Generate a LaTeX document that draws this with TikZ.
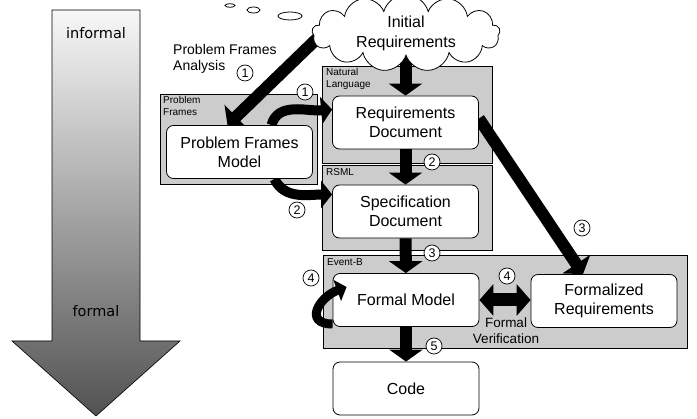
\documentclass[tikz,border=0pt]{standalone}
\usepackage{fontspec}
\setmainfont{Liberation Sans}
\newfontfamily\arrowfont{DejaVu Sans}
\usetikzlibrary{arrows.meta,shapes.symbols}
\pgfdeclarelayer{bg}
\pgfsetlayers{bg,main}

\tikzset{
    graybox/.style={draw=black,fill=black!20,line width=0.8pt},
    docbox/.style={draw=black,fill=white,rounded corners=7pt,line width=0.8pt,minimum width=146pt,minimum height=53pt,align=center,font=\fontsize{16}{19}\selectfont},
    boxlabel/.style={anchor=north west,align=left,inner sep=0pt,font=\fontsize{10}{12}\selectfont},
    num/.style={circle,draw,line width=0.7pt,inner sep=0pt,minimum size=16pt,font=\fontsize{12.5}{12.5}\selectfont},
    bigarrow/.style={line width=12pt,-{Triangle[width=33pt,length=12pt]}},
    bendarrow/.style={line width=10pt,-{Triangle[width=27pt,length=11pt]}},
    dblarrow/.style={line width=13pt,{Triangle[width=31pt,length=14pt]}-{Triangle[width=31pt,length=14pt]}}
}

\begin{document}
\begin{tikzpicture}[x=1pt,y=1pt]
    \useasboundingbox (0,0) rectangle (697,-419);

    % informal -> formal
    \shadedraw[top color=black!3,bottom color=black!68,draw=black,line width=0.6pt] (52,-10) -- (140,-10) -- (140,-341) -- (180,-341) -- (96,-416) -- (12,-341) -- (52,-341) -- cycle;
    \node[font=\arrowfont\fontsize{14.5}{16}\selectfont] (informal) at (96,-33) {informal};
    \node[font=\arrowfont\fontsize{14.5}{16}\selectfont] (formal) at (96,-311) {formal};

    % thought bubbles
    \draw[line width=0.8pt] (230,-5.5) ellipse [x radius=5pt,y radius=1.8pt];
    \draw[line width=0.8pt] (253.5,-10) ellipse [x radius=6.5pt,y radius=3pt];
    \draw[line width=0.8pt] (290,-16) ellipse [x radius=12pt,y radius=4pt];

    \node[cloud,cloud puffs=13,aspect=3.2,draw,fill=white,line width=0.8pt,minimum width=188pt,minimum height=58pt,inner sep=0pt,align=center,font=\fontsize{16}{20}\selectfont] (cloud) at (406,-33) {Initial\\Requirements};

    \node[anchor=north west,align=left,inner sep=0pt,font=\fontsize{14}{16}\selectfont] (analysis) at (173,-44) {Problem Frames\\Analysis};

    \node[docbox] (reqdoc) at (405.5,-122.5) {Requirements\\Document};
    \node[docbox] (pfm) at (239.5,-152) {Problem Frames\\Model};
    \node[docbox] (specdoc) at (405.5,-211.5) {Specification\\Document};
    \node[docbox] (formalmodel) at (406,-300) {Formal Model};
    \node[docbox] (formreq) at (604,-301) {Formalized\\Requirements};
    \node[docbox] (code) at (406,-388.5) {Code};

    \node[align=center,inner sep=0pt,font=\fontsize{13.5}{16}\selectfont] (verif) at (506,-331) {Formal\\Verification};

    \begin{pgfonlayer}{bg}
        \draw[graybox] (322,-66) rectangle (492,-163);
        \draw[graybox] (160,-94) rectangle (317,-184);
        \draw[graybox] (322,-165) rectangle (492,-250);
        \draw[graybox] (323,-255) rectangle (687,-348);

        \draw[bigarrow] (reqdoc.north |- cloud.south) -- (reqdoc.north);
        \draw[bigarrow] ([shift={(-76pt,7pt)}]cloud.center) -- ([xshift=-12pt]pfm.north);
        \draw[bigarrow] (reqdoc) -- (specdoc);
        \draw[bigarrow] (specdoc) -- (formalmodel);
        \draw[bigarrow] (formalmodel) -- (code);
        \draw[bigarrow] ([yshift=4pt]reqdoc.east) -- ([xshift=-21pt]formreq.north);
        \draw[bendarrow] ([xshift=32pt]pfm.north) to[out=75,in=185] ([yshift=13pt]reqdoc.west);
        \draw[bendarrow] ([xshift=35pt]pfm.south) to[out=-65,in=180] ([yshift=17pt]specdoc.west);
        \draw[dblarrow] (formalmodel.east) -- (formalmodel.east -| formreq.west);
    \end{pgfonlayer}

    \draw[line width=9pt,-{Triangle[width=22pt,length=10pt]}] ([yshift=-24pt]formalmodel.west) to[out=180,in=200,looseness=1.9] ([shift={(14pt,13pt)}]formalmodel.west);

    \node[boxlabel] (natlang) at (326,-68) {Natural\\Language};
    \node[boxlabel] (pframes) at (163,-96) {Problem\\Frames};
    \node[boxlabel] (rsml) at (326,-168) {RSML};
    \node[boxlabel] (eventb) at (327,-258) {Event-B};

    \foreach \x/\y/\digit [count=\i] in {245/73/1, 305/92/1, 432/162/2, 297/210/2, 432/253/3, 582/228/3, 311/278/4, 507/276/4, 434/346/5} {
        \node[num,fill=white] (num\i) at (\x,-\y) {\digit};
    }
\end{tikzpicture}
\end{document}
